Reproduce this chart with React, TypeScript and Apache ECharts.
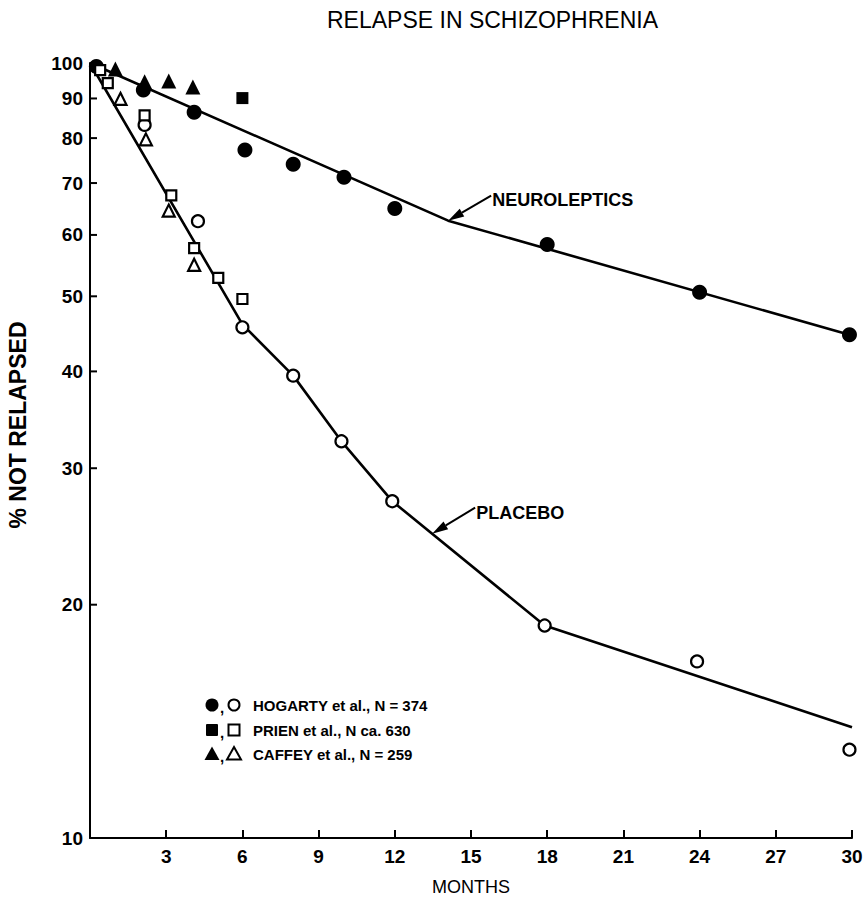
import React, { useEffect, useRef } from "react";
import * as echarts from "echarts";

// ---- data ----
const xTicks = [3, 6, 9, 12, 15, 18, 21, 24, 27, 30];
const yTicks = [10, 20, 30, 40, 50, 60, 70, 80, 90, 100];

const neurolepticsLine: number[][] = [[0, 100], [14.1, 62.6], [30, 44.5]];
const placeboLine: number[][] = [[0, 100], [6, 46], [8, 39.5], [9.9, 32.5], [11.9, 27.2], [17.9, 18.8], [30, 13.9]];

const hogartyDrug: number[][] = [[0.25, 99], [2.1, 92.3], [4.1, 86.4], [6.1, 77.2], [8, 74], [10, 71.2], [12, 64.9], [18, 58.3], [24, 50.6], [29.9, 44.6]];
const hogartyPlacebo: number[][] = [[2.15, 83.2], [4.25, 62.5], [6, 45.6], [8, 39.5], [9.9, 32.5], [11.9, 27.2], [17.9, 18.8], [23.9, 16.9], [29.9, 13.0]];
const prienDrug: number[][] = [[6, 90.1]];
const prienPlacebo: number[][] = [[0.4, 97.9], [0.7, 94.2], [2.15, 85.6], [3.2, 67.5], [4.1, 57.7], [5.05, 52.8], [6, 49.6]];
const caffeyDrug: number[][] = [[1, 98.2], [2.15, 94.6], [3.1, 94.8], [4.05, 93.1]];
const caffeyPlacebo: number[][] = [[1.2, 89.9], [2.2, 79.7], [3.1, 64.5], [4.1, 54.9]];

const legendRows = ["HOGARTY et al., N = 374", "PRIEN et al., N ca. 630", "CAFFEY et al., N = 259"];
const neuroArrowTip = [14.1, 62.6];
const placeboArrowTip = [13.47, 24.7];

const FONT = "'Liberation Sans', Arial, sans-serif";

export default function App() {
  const ref = useRef<HTMLDivElement>(null);
  useEffect(() => {
    document.body.style.margin = "0";
    const chart = echarts.init(ref.current!, null, { renderer: "svg" });
    const filled = (name: string, data: number[][], symbol: string, size: number) => ({
      type: "scatter", name, data, symbol, symbolSize: size, z: 5,
      itemStyle: { color: "#000", opacity: 1 },
    });
    const open = (name: string, data: number[][], symbol: string, size: number) => ({
      type: "scatter", name, data, symbol, symbolSize: size, z: 6,
      itemStyle: { color: "#fff", borderColor: "#000", borderWidth: 2.2, opacity: 1 },
    });
    chart.setOption({
      animation: false,
      backgroundColor: "#fff",
      title: {
        text: "RELAPSE IN SCHIZOPHRENIA",
        left: 322, top: 3,
        textStyle: { fontFamily: FONT, fontSize: 23, fontWeight: "normal", color: "#000" },
      },
      grid: { left: 90, right: 16, top: 63, bottom: 63, outerBoundsMode: "none", containLabel: false },
      xAxis: {
        type: "value", min: 0, max: 30, interval: 3,
        name: "MONTHS", nameLocation: "middle", nameGap: 40,
        nameTextStyle: { fontFamily: FONT, fontSize: 18, color: "#000" },
        axisLine: { lineStyle: { color: "#000", width: 2 } },
        axisTick: { inside: true, length: 8, lineStyle: { color: "#000", width: 2 } },
        axisLabel: {
          margin: 9, color: "#000", fontFamily: FONT, fontSize: 19, fontWeight: "bold",
          formatter: (v: number) => (xTicks.includes(v) ? String(v) : ""),
        },
        splitLine: { show: false },
      },
      yAxis: {
        type: "log", logBase: 10, min: 10, max: 100,
        axisLine: { show: true, lineStyle: { color: "#000", width: 2 } },
        axisTick: { show: false },
        axisLabel: { show: false },
        splitLine: { show: false },
      },
      series: [
        { type: "line", name: "Neuroleptics", data: neurolepticsLine, showSymbol: false, symbol: "none", lineStyle: { color: "#000", width: 2.6 }, z: 3 },
        { type: "line", name: "Placebo", data: placeboLine, showSymbol: false, symbol: "none", lineStyle: { color: "#000", width: 2.6 }, z: 3 },
        filled("Hogarty neuroleptics", hogartyDrug, "circle", 15),
        open("Hogarty placebo", hogartyPlacebo, "circle", 12),
        filled("Prien neuroleptics", prienDrug, "rect", 12),
        open("Prien placebo", prienPlacebo, "rect", 10),
        filled("Caffey neuroleptics", caffeyDrug, "triangle", 15),
        open("Caffey placebo", caffeyPlacebo, "triangle", 12),
      ],
    });

    const px = (p: number[]) => chart.convertToPixel({ gridIndex: 0 }, p) as number[];
    const graphics: any[] = [];
    // y tick labels & inward ticks on the log axis
    yTicks.forEach((v) => {
      const [x, y] = px([0, v]);
      graphics.push({
        type: "text", x: x - 7, y,
        style: { text: String(v), align: "right", verticalAlign: "middle", fontFamily: FONT, fontSize: 19, fontWeight: "bold", fill: "#000" },
      });
      graphics.push({ type: "line", shape: { x1: x, y1: y, x2: x + 7, y2: y }, style: { stroke: "#000", lineWidth: 2 } });
    });

    // y axis title
    graphics.push({
      type: "text", x: 18, y: 425, rotation: Math.PI / 2,
      style: { text: "% NOT RELAPSED", align: "center", verticalAlign: "middle", fontFamily: FONT, fontSize: 23, fontWeight: "bold", fill: "#000" },
    });

    const arrow = (tip: number[], dx: number, dy: number) => {
      const [tx, ty] = px(tip);
      const sx = tx + dx, sy = ty + dy;
      const len = Math.hypot(dx, dy);
      const ux = dx / len, uy = dy / len;
      const hl = 16, hw = 4.5;
      const bx = tx + ux * hl, by = ty + uy * hl;
      graphics.push({ type: "line", shape: { x1: sx, y1: sy, x2: bx, y2: by }, style: { stroke: "#000", lineWidth: 2 } });
      graphics.push({
        type: "polygon",
        shape: { points: [[tx, ty], [bx - uy * hw, by + ux * hw], [bx + uy * hw, by - ux * hw]] },
        style: { fill: "#000" },
      });
      return [sx, sy];
    };
    const [nx, ny] = arrow(neuroArrowTip, 43, -25);
    graphics.push({
      type: "text", x: nx + 1, y: ny + 4,
      style: { text: "NEUROLEPTICS", align: "left", verticalAlign: "middle", fontFamily: FONT, fontSize: 18, fontWeight: "bold", fill: "#000" },
    });
    const [qx, qy] = arrow(placeboArrowTip, 43, -26);
    graphics.push({
      type: "text", x: qx + 1, y: qy + 5,
      style: { text: "PLACEBO", align: "left", verticalAlign: "middle", fontFamily: FONT, fontSize: 18, fontWeight: "bold", fill: "#000" },
    });

    // legend block
    const rowsY = [705, 730, 754];
    const symX = 212, openX = 234, textX = 253;
    rowsY.forEach((y, i) => {
      if (i === 0) {
        graphics.push({ type: "circle", shape: { cx: symX, cy: y, r: 6.5 }, style: { fill: "#000" } });
        graphics.push({ type: "circle", shape: { cx: openX, cy: y, r: 5.5 }, style: { fill: "#fff", stroke: "#000", lineWidth: 2 } });
      } else if (i === 1) {
        graphics.push({ type: "rect", shape: { x: symX - 6, y: y - 6, width: 12, height: 12, r: 1 }, style: { fill: "#000" } });
        graphics.push({ type: "rect", shape: { x: openX - 5.5, y: y - 5.5, width: 11, height: 11 }, style: { fill: "#fff", stroke: "#000", lineWidth: 2 } });
      } else {
        graphics.push({ type: "polygon", shape: { points: [[symX, y - 7.5], [symX + 7.5, y + 6], [symX - 7.5, y + 6]] }, style: { fill: "#000" } });
        graphics.push({ type: "polygon", shape: { points: [[openX, y - 7], [openX + 7, y + 5.5], [openX - 7, y + 5.5]] }, style: { fill: "#fff", stroke: "#000", lineWidth: 2 } });
      }
      graphics.push({
        type: "text", x: symX + 10, y: y + 2,
        style: { text: ",", align: "center", verticalAlign: "middle", fontFamily: FONT, fontSize: 15, fontWeight: "bold", fill: "#000" },
      });
      graphics.push({
        type: "text", x: textX, y,
        style: { text: legendRows[i], align: "left", verticalAlign: "middle", fontFamily: FONT, fontSize: 15, fontWeight: "bold", fill: "#000" },
      });
    });

    chart.setOption({ graphic: graphics });
    return () => chart.dispose();
  }, []);
  return <div ref={ref} style={{ width: 868, height: 901 }} />;
}
